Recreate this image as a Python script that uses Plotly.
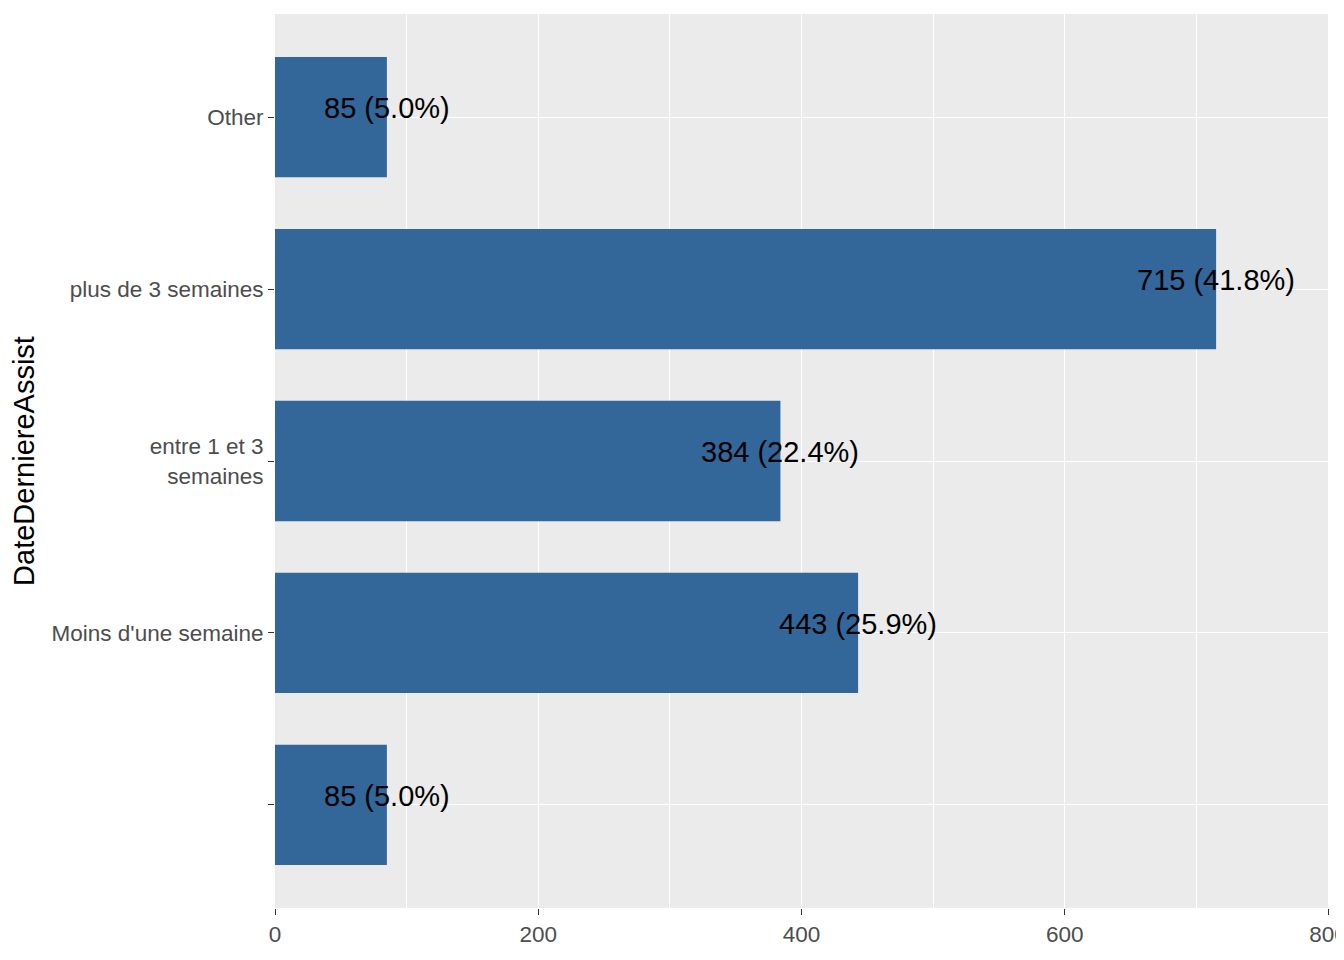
import plotly.graph_objects as go

categories = [" ", "Moins d'une semaine", "entre 1 et 3<br>semaines", "plus de 3 semaines", "Other"]
counts = [85, 443, 384, 715, 85]
labels = ["85 (5.0%)", "443 (25.9%)", "384 (22.4%)", "715 (41.8%)", "85 (5.0%)"]
x_ticks = [0, 200, 400, 600, 800]

FONT = "Liberation Sans, Arial, sans-serif"

fig = go.Figure()
fig.add_trace(go.Bar(
    x=counts, y=categories, orientation="h",
    marker=dict(color="#336699", line=dict(width=0)),
    width=0.7, showlegend=False, hoverinfo="skip",
))

for c, v, t in zip(categories, counts, labels):
    fig.add_annotation(x=v, y=c, text=t, showarrow=False,
                       xanchor="center", yanchor="middle", yshift=9,
                       font=dict(family=FONT, size=29, color="black"))

fig.update_layout(
    width=1336, height=952,
    margin=dict(l=267, r=16, t=6, b=52),
    paper_bgcolor="white", plot_bgcolor="#EBEBEB",
    font=dict(family=FONT),
    bargap=0.3,
)
fig.update_xaxes(
    range=[0, 800], tickvals=x_ticks, ticktext=[str(v) for v in x_ticks],
    showgrid=True, gridcolor="white", gridwidth=1.4,
    minor=dict(tickvals=[100, 300, 500, 700], showgrid=True, gridcolor="white", gridwidth=0.7),
    ticks="outside", ticklen=6, tickcolor="#333333", tickwidth=1.2,
    tickfont=dict(family=FONT, size=22.5, color="#4D4D4D"),
    zeroline=False, showline=False, automargin=False, ticklabeloverflow="allow",
)
fig.update_yaxes(
    type="category", categoryorder="array", categoryarray=categories,
    range=[-0.6, 4.6],
    showgrid=True, gridcolor="white", gridwidth=1.4,
    ticks="outside", ticklen=6, tickcolor="#333333", tickwidth=1.2,
    tickfont=dict(family=FONT, size=22.5, color="#4D4D4D"),
    title=dict(text="DateDerniereAssist", font=dict(family=FONT, size=29, color="black"), standoff=10),
    zeroline=False, showline=False, automargin=False,
)

fig.write_html("out.html")
